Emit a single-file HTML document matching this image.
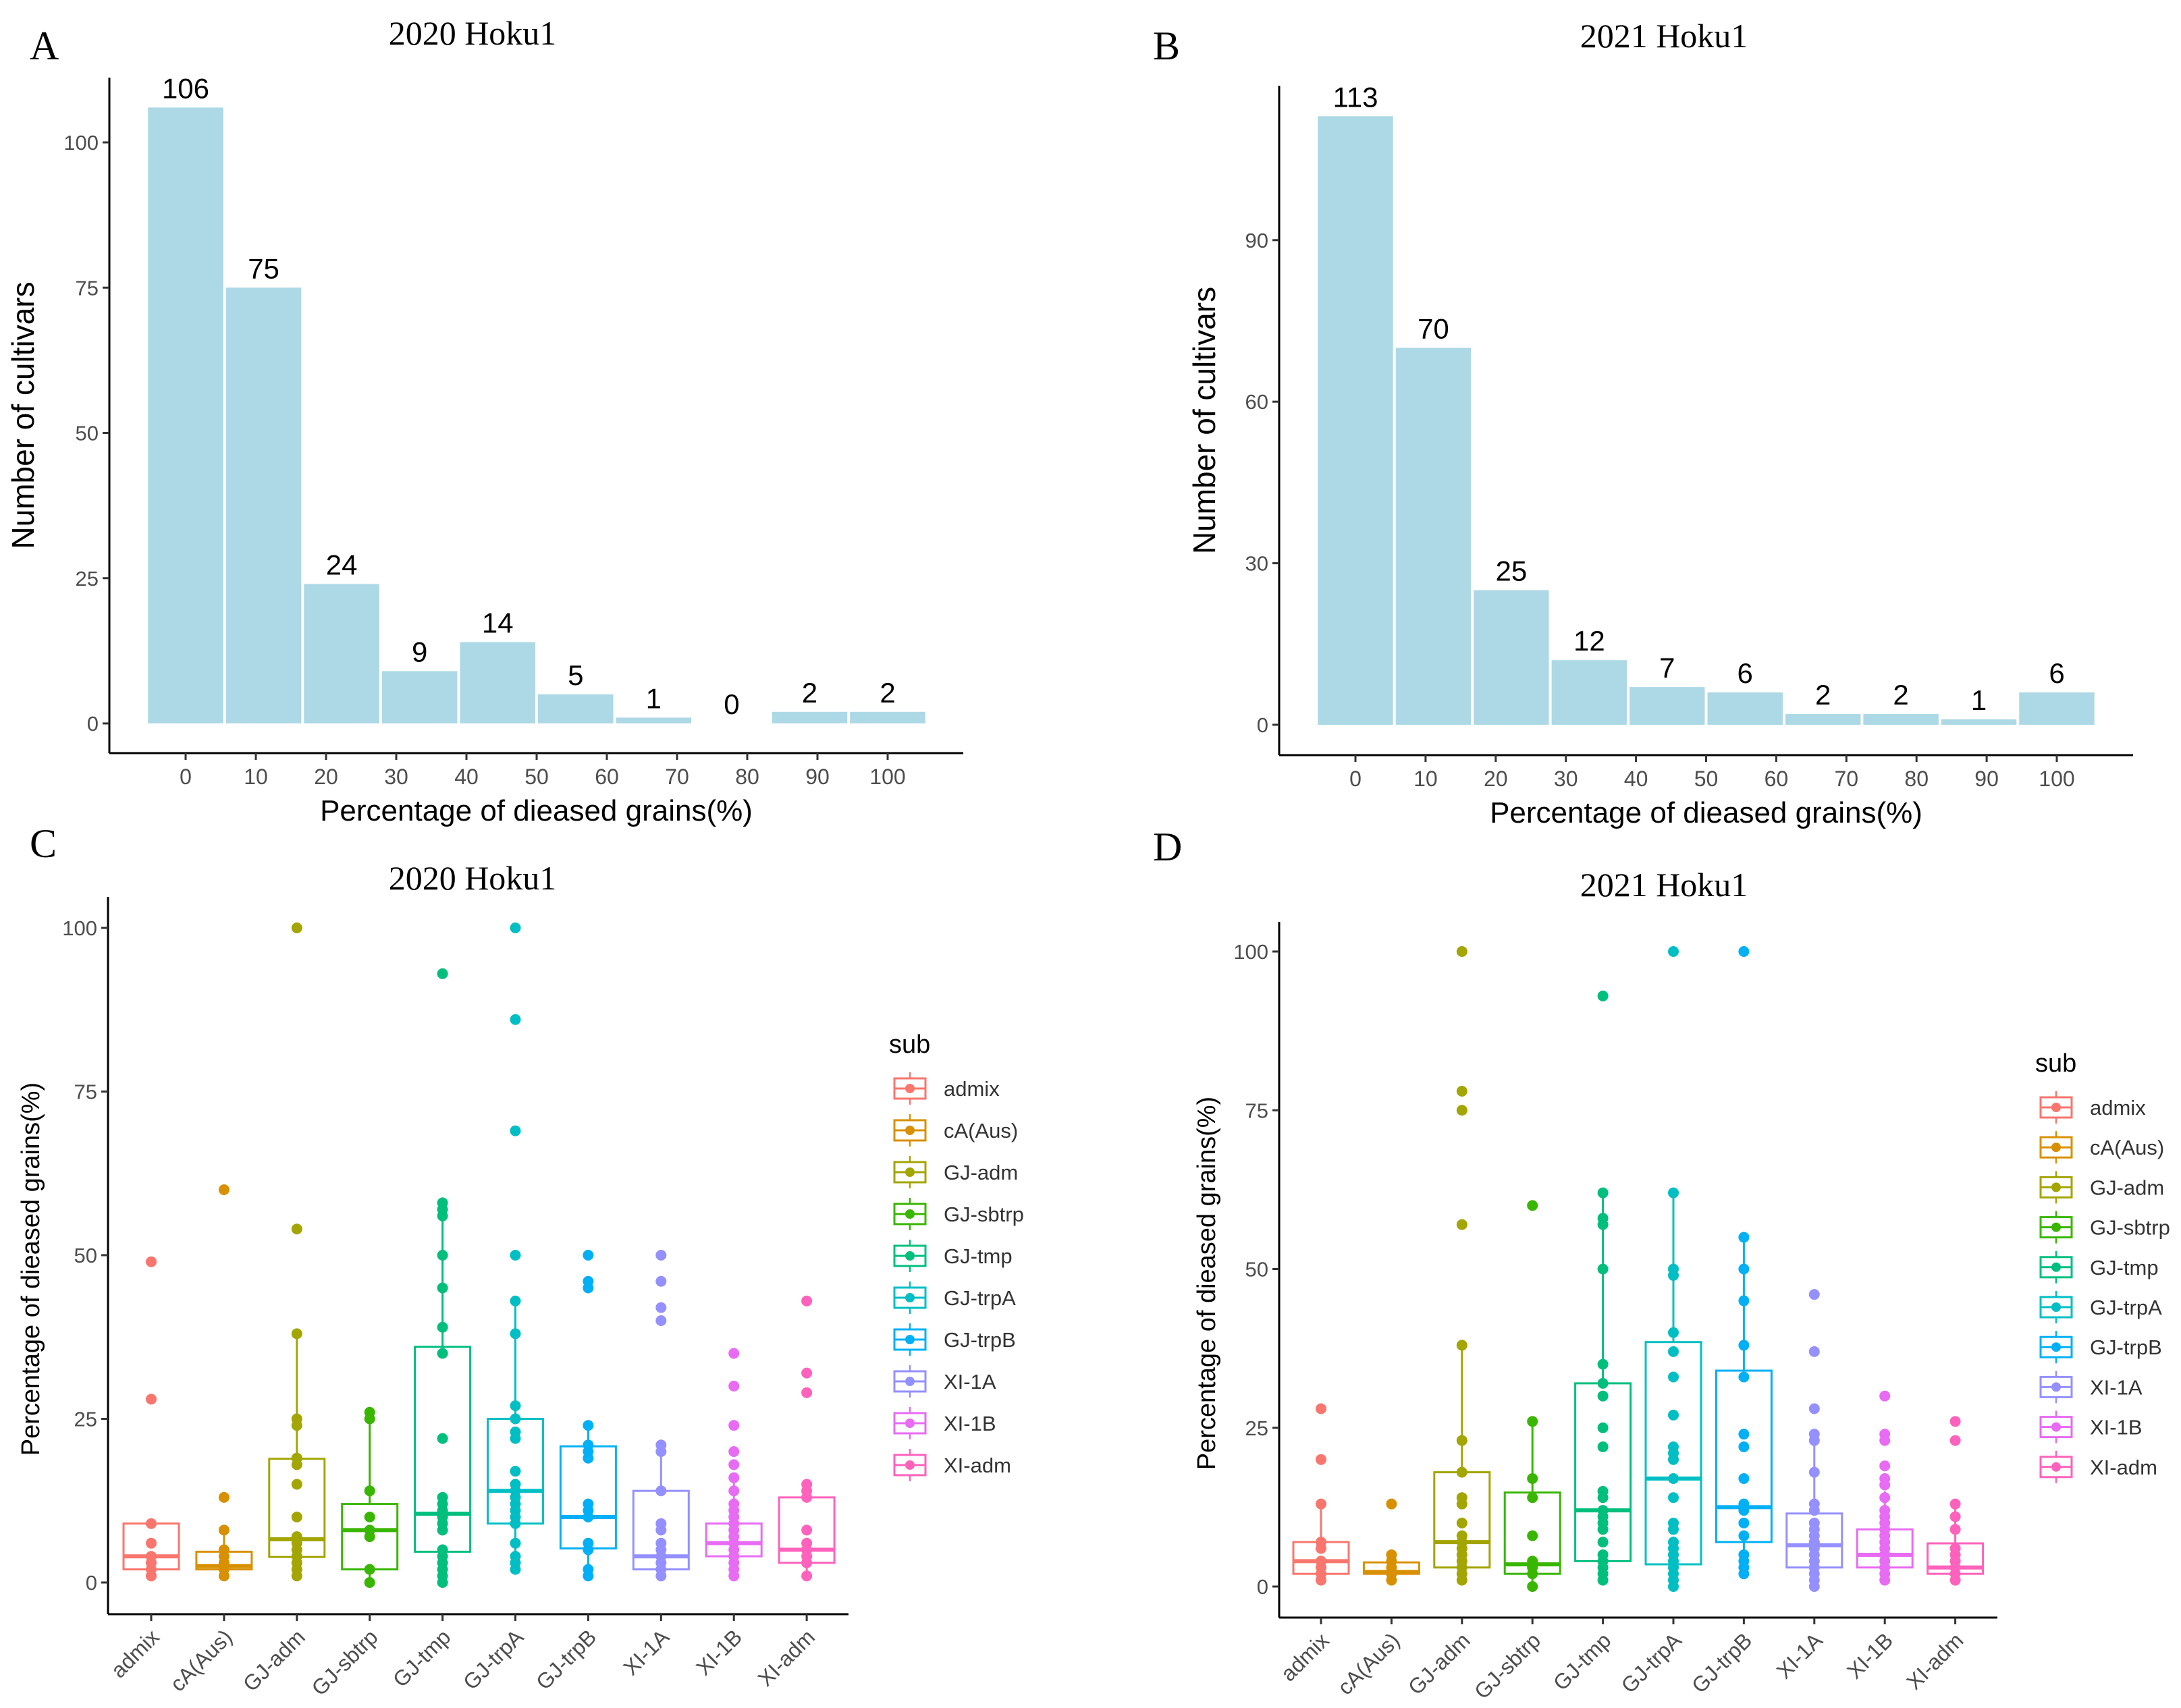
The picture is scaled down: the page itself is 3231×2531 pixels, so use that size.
<!DOCTYPE html>
<html><head><meta charset="utf-8"><style>
html,body{margin:0;padding:0;background:#fff;overflow:hidden}
svg{display:block}
text{font-family:"Liberation Sans",sans-serif}
.serif{font-family:"Liberation Serif",serif}
</style></head><body>
<svg id="fig" width="3231" height="2531" viewBox="0 0 3231 2531" xmlns="http://www.w3.org/2000/svg">
<rect width="3231" height="2531" fill="#fff"/>
<text class="serif" x="44" y="88" font-size="60">A</text>
<text class="serif" x="1708" y="88" font-size="60">B</text>
<text class="serif" x="44" y="1270" font-size="60">C</text>
<text class="serif" x="1708" y="1275" font-size="60">D</text>
</svg>
<script>
const histTickVals=[0,10,20,30,40,50,60,70,80,90,100];
const histA=[106,75,24,9,14,5,1,0,2,2];
const histTicksA=[0,25,50,75,100];
const histB=[113,70,25,12,7,6,2,2,1,6];
const histTicksB=[0,30,60,90];
const xTickLabels=["0","10","20","30","40","50","60","70","80","90","100"];
const groups=["admix","cA(Aus)","GJ-adm","GJ-sbtrp","GJ-tmp","GJ-trpA","GJ-trpB","XI-1A","XI-1B","XI-adm"];
const colors=["#F8766D","#D89000","#A3A500","#39B600","#00BF7D","#00BFC4","#00B0F6","#9590FF","#E76BF3","#FF62BC"];
const boxTicks=[0,25,50,75,100];
// [q1, median, q3, whiskerLow, whiskerHigh]
const boxC=[[2,4,9,1,9],[2,2.5,4.7,1,8],[3.9,6.6,18.9,1,38],[2,8,12,0,26],[4.7,10.5,36,0,58],[9,14,25,2,43],[5.2,10,20.8,1,24],[2,4,14,1,21],[4,6,9,1,16],[3,5,13,1,15]];
const pointsC=[[49,28,9,6,4,3,2,1],[60,13,8,5,4,3,2,1],[100,54,38,25,24,19,18,15,10,7,6,5,4,3,2,1],[26,25,14,10,8,7,2,0],[93,58,57,56,50,45,39,35,22,13,12,11,10,9,8,5,4,3,2,1,0],[100,86,69,50,43,38,27,25,23,22,17,15,14,13,12,11,10,9,6,4,3,2],[50,46,45,24,21,20,19,12,11,10,6,5,2,1],[50,46,42,40,21,20,14,9,8,6,5,4,3,2,1],[35,30,24,20,18,16,14,12,11,10,9,8,7,6,5,4,3,2,1],[43,32,29,15,14,13,8,6,5,4,3,1]];
const boxD=[[2,4,7,1,13],[2,2.3,3.8,1,5],[3,7,18,1,38],[2,3.5,14.8,0,26],[4,12,32,1,62],[3.5,17,38.5,0,62],[7,12.5,34,2,55],[3,6.5,11.5,0,24],[3,5,9,1,15],[2,3,6.8,1,13]];
const pointsD=[[28,20,13,7,6,4,3,2,1],[13,5,4,3,2,1],[100,78,75,57,38,23,18,14,13,10,8,7,6,5,4,3,2,1],[60,26,17,14,8,4,3,2,0],[93,62,58,57,50,35,32,30,25,22,15,14,12,11,10,9,7,5,4,3,2,1],[100,62,50,49,40,37,33,27,22,21,20,17,14,10,9,7,6,5,4,3,2,1,0],[100,55,50,45,38,33,24,22,17,13,12,10,8,5,4,3,2],[46,37,28,24,23,18,13,12,10,9,8,7,6,5,4,3,2,1,0],[30,24,23,19,17,16,14,12,11,10,9,8,7,6,5,4,3,2,1],[26,23,13,11,9,6,5,4,3,2,1]];

const NS="http://www.w3.org/2000/svg";
const svg=document.getElementById('fig');
function mk(tag,attrs,parent,txt){const e=document.createElementNS(NS,tag);for(const k in attrs)e.setAttribute(k,attrs[k]);if(txt!==undefined)e.textContent=txt;(parent||svg).appendChild(e);return e;}

function hist(cfg,vals,ticks,tag){
  const g=mk('g',{});
  
  
  const X=v=>cfg.x0+v*cfg.du;
  const Y=v=>cfg.y0-v*cfg.dy;
  const n=vals.length, w=100/(n-1);
  vals.forEach((v,i)=>{
    const c=i*w;
    const r=mk('rect',{x:X(c-w/2)+2,y:Y(v),width:w*cfg.du-4,height:Math.max(0,Y(0)-Y(v)),fill:"#ADD8E6"},g);
    
    
    const t=mk('text',{x:X(c),y:Y(v)-14,'font-size':42,'text-anchor':'middle',fill:'#000'},g,String(v));
    
    
  });
  mk('line',{x1:cfg.ax,y1:cfg.top,x2:cfg.ax,y2:cfg.by,stroke:'#000','stroke-width':3},g);
  mk('line',{x1:cfg.ax,y1:cfg.by,x2:cfg.right,y2:cfg.by,stroke:'#000','stroke-width':3},g);
  ticks.forEach(t=>{
    mk('line',{x1:cfg.ax-10,y1:Y(t),x2:cfg.ax,y2:Y(t),stroke:'#333','stroke-width':3},g);
    const l=mk('text',{x:cfg.ax-16,y:Y(t)+11,'font-size':31,'text-anchor':'end',fill:'#4d4d4d'},g,String(t));
    
    
  });
  histTickVals.forEach((c,i)=>{
    mk('line',{x1:X(c),y1:cfg.by,x2:X(c),y2:cfg.by+10,stroke:'#333','stroke-width':3},g);
    const l=mk('text',{x:X(c),y:cfg.by+46,'font-size':32,'text-anchor':'middle',fill:'#4d4d4d'},g,xTickLabels[i]);
    
    
  });
  const xt=mk('text',{x:(cfg.ax+cfg.right)/2,y:cfg.by+100,'font-size':44,'text-anchor':'middle',fill:'#000'},g,'Percentage of dieased grains(%)');
  
  
  const yc=(cfg.top+cfg.by)/2;
  const yt=mk('text',{x:cfg.ytx,y:yc,'font-size':46,'text-anchor':'middle',fill:'#000',transform:`rotate(-90 ${cfg.ytx} ${yc})`},g,'Number of cultivars');
  
  
  const ti=mk('text',{class:'serif',x:cfg.tx,y:cfg.ty,'font-size':50,'text-anchor':'middle',fill:'#000'},g,cfg.title);
  
  
}

function boxplot(cfg,boxes,pts,tag){
  const g=mk('g',{});
  
  
  const X=i=>cfg.x0+i*cfg.dx;
  const Y=v=>cfg.y0-v*cfg.dy;
  boxes.forEach((b,i)=>{
    const col=colors[i],x=X(i),hw=cfg.hw;
    const bg=mk('g',{},g);
    
    
    mk('line',{x1:x,y1:Y(b[2]),x2:x,y2:Y(b[4]),stroke:col,'stroke-width':3},bg);
    mk('line',{x1:x,y1:Y(b[0]),x2:x,y2:Y(b[3]),stroke:col,'stroke-width':3},bg);
    mk('rect',{x:x-hw,y:Y(b[2]),width:2*hw,height:Y(b[0])-Y(b[2]),fill:'none',stroke:col,'stroke-width':3},bg);
    mk('line',{x1:x-hw,y1:Y(b[1]),x2:x+hw,y2:Y(b[1]),stroke:col,'stroke-width':6},bg);
    pts[i].forEach(v=>{
      const c=mk('circle',{cx:x,cy:Y(v),r:8,fill:col},bg);
      
      
    });
  });
  mk('line',{x1:cfg.ax,y1:cfg.top,x2:cfg.ax,y2:cfg.by,stroke:'#000','stroke-width':3},g);
  mk('line',{x1:cfg.ax,y1:cfg.by,x2:cfg.right,y2:cfg.by,stroke:'#000','stroke-width':3},g);
  boxTicks.forEach(t=>{
    mk('line',{x1:cfg.ax-10,y1:Y(t),x2:cfg.ax,y2:Y(t),stroke:'#333','stroke-width':3},g);
    const l=mk('text',{x:cfg.ax-16,y:Y(t)+11,'font-size':31,'text-anchor':'end',fill:'#4d4d4d'},g,String(t));
    
    
  });
  groups.forEach((n,i)=>{
    const x=X(i);
    mk('line',{x1:x,y1:cfg.by,x2:x,y2:cfg.by+10,stroke:'#333','stroke-width':3},g);
    const lx=x+14,ly=cfg.by+36;
    const l=mk('text',{x:lx,y:ly,'font-size':32,'text-anchor':'end',fill:'#4d4d4d',transform:`rotate(-45 ${lx} ${ly})`},g,n);
    
    
  });
  const yc=(cfg.top+cfg.by)/2+20;
  const yt=mk('text',{x:cfg.ytx,y:yc,'font-size':38,'text-anchor':'middle',fill:'#000',transform:`rotate(-90 ${cfg.ytx} ${yc})`},g,'Percentage of dieased grains(%)');
  
  
  const ti=mk('text',{class:'serif',x:cfg.tx,y:cfg.ty,'font-size':50,'text-anchor':'middle',fill:'#000'},g,cfg.title);
  
  
  const lg=mk('g',{},g);
  
  
  mk('text',{x:cfg.lx-8,y:cfg.ly-53,'font-size':38,fill:'#000'},lg,'sub');
  groups.forEach((n,i)=>{
    const cy=cfg.ly+i*cfg.lsp,col=colors[i],kx=cfg.lx;
    const e=mk('g',{},lg);
    
    
    mk('line',{x1:kx+23,y1:cy-24,x2:kx+23,y2:cy+24,stroke:col,'stroke-width':2.5},e);
    mk('rect',{x:kx,y:cy-15,width:46,height:30,fill:'#fff',stroke:col,'stroke-width':3},e);
    mk('line',{x1:kx,y1:cy,x2:kx+46,y2:cy,stroke:col,'stroke-width':3},e);
    mk('circle',{cx:kx+23,cy:cy,r:7,fill:col},e);
    mk('text',{x:kx+73,y:cy+11,'font-size':31,fill:'#333'},e,n);
  });
}

hist({x0:275,du:10.4,y0:1072,dy:8.61,ax:162,top:115,by:1116,right:1427,ytx:50,tx:700,ty:66,title:'2020 Hoku1'},histA,histTicksA,'a');
hist({x0:2008,du:10.39,y0:1074,dy:7.98,ax:1895,top:127,by:1119,right:3160,ytx:1800,tx:2465,ty:70,title:'2021 Hoku1'},histB,histTicksB,'b');
boxplot({x0:224,dx:107.9,y0:2345,dy:9.7,hw:41,ax:160,top:1329,by:2392,right:1257,ytx:58,tx:700,ty:1318,title:'2020 Hoku1',lx:1325,ly:1613,lsp:62},boxC,pointsC,'c');
boxplot({x0:1957,dx:104.4,y0:2351,dy:9.41,hw:41,ax:1895,top:1366,by:2397,right:2959,ytx:1800,tx:2465,ty:1328,title:'2021 Hoku1',lx:3023,ly:1641,lsp:59.2},boxD,pointsD,'d');
</script>
</body></html>
